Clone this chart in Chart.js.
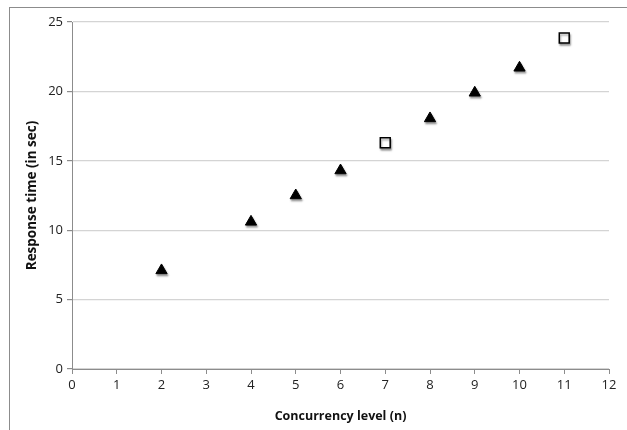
<!DOCTYPE html>
<html>
<head>
<meta charset="utf-8">
<script src="https://cdn.jsdelivr.net/npm/chart.js@4.4.1/dist/chart.umd.min.js"></script>
<style>
    body { margin: 0; background: #fff; overflow: hidden; }
    #frame { position: absolute; left: 9px; top: 7px; width: 640px; height: 440px;
             border-top: 1px solid #8c8c8c; border-left: 1px solid #8c8c8c; }
    #chart { position: absolute; left: 0; top: 0; }
</style>
</head>
<body>
<div id="frame"></div>
<canvas id="chart" width="627" height="430"></canvas>
<script>
// ==================== DADOS ====================
const nivelTriangulo = [2, 4, 5, 6, 8, 9, 10];
const tempoTriangulo = [7.1, 10.6, 12.5, 14.3, 18.05, 19.9, 21.7];
const nivelQuadrado = [7, 11];
const tempoQuadrado = [16.3, 23.85];
const ticksX = [0, 1, 2, 3, 4, 5, 6, 7, 8, 9, 10, 11, 12];
const ticksY = [0, 5, 10, 15, 20, 25];

const pontos = (xs, ys) => xs.map((x, i) => ({ x: x, y: ys[i] }));

// sombra leve nos marcadores, como no original
const sombraPlugin = {
    id: 'sombra',
    beforeDatasetsDraw(chart) {
        const ctx = chart.ctx;
        ctx.save();
        ctx.shadowColor = 'rgba(0,0,0,0.35)';
        ctx.shadowOffsetX = 1;
        ctx.shadowOffsetY = 2;
        ctx.shadowBlur = 2;
    },
    afterDatasetsDraw(chart) {
        chart.ctx.restore();
    }
};

const fonteTick = { family: 'Open Sans', size: 13 };

new Chart(document.getElementById('chart'), {
    type: 'scatter',
    data: {
        datasets: [{
            label: 'triangulo',
            data: pontos(nivelTriangulo, tempoTriangulo),
            pointStyle: 'triangle',
            pointRadius: 6.5,
            backgroundColor: '#000',
            borderColor: '#000',
            borderWidth: 1
        }, {
            label: 'quadrado',
            data: pontos(nivelQuadrado, tempoQuadrado),
            pointStyle: 'rect',
            pointRadius: 7,
            backgroundColor: '#fff',
            borderColor: '#000',
            borderWidth: 1.5
        }]
    },
    options: {
        responsive: false,
        animation: false,
        devicePixelRatio: 1,
        layout: { padding: { left: 20, right: 18, top: 22, bottom: 0 } },
        plugins: { legend: { display: false }, tooltip: { enabled: false } },
        scales: {
            x: {
                type: 'linear',
                min: 0, max: 12,
                afterBuildTicks: (s) => { s.ticks = ticksX.map(v => ({ value: v })); },
                afterFit: (s) => { s.height = 61; },
                border: { color: '#8c8c8c', width: 1 },
                grid: { drawOnChartArea: false, tickLength: 5, color: '#8c8c8c' },
                ticks: { color: '#222', font: fonteTick, padding: 3, maxRotation: 0, autoSkip: false },
                title: { display: true, text: 'Concurrency level (n)', color: '#111',
                         font: { family: 'Open Sans', size: 12.5, weight: 'bold' }, padding: { top: 6, bottom: 6 } }
            },
            y: {
                min: 0, max: 25,
                afterBuildTicks: (s) => { s.ticks = ticksY.map(v => ({ value: v })); },
                afterFit: (s) => { s.width = 52; },
                border: { color: '#8c8c8c', width: 1 },
                grid: { color: '#d4d4d4', tickColor: '#8c8c8c', tickLength: 5, lineWidth: 1.2 },
                ticks: { color: '#222', font: fonteTick, padding: 4, autoSkip: false },
                title: { display: true, text: 'Response time (in sec)', color: '#111',
                         font: { family: 'Open Sans', size: 13.5, weight: 'bold' }, padding: { top: 4, bottom: 8 } }
            }
        }
    },
    plugins: [sombraPlugin]
});
</script>
</body>
</html>
